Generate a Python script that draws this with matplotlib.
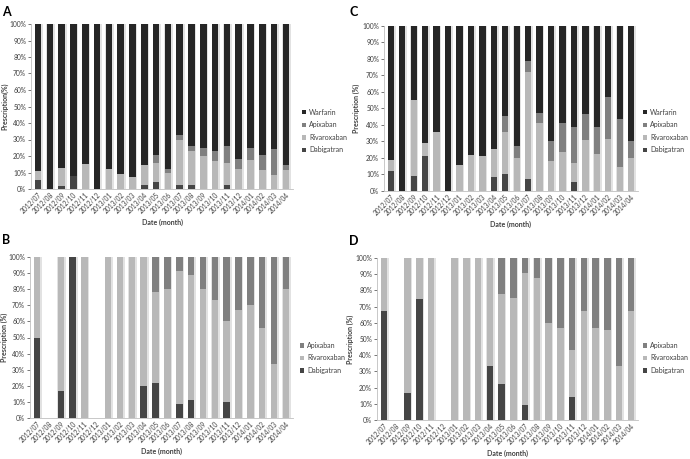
import matplotlib
matplotlib.use("Agg")
import matplotlib.pyplot as plt
from matplotlib.patches import Patch
import numpy as np

plt.rcParams['font.family'] = ['Lato', 'DejaVu Sans']

months = ['2012/07', '2012/08', '2012/09', '2012/10', '2012/11', '2012/12',
          '2013/01', '2013/02', '2013/03', '2013/04', '2013/05', '2013/06',
          '2013/07', '2013/08', '2013/09', '2013/10', '2013/11', '2013/12',
          '2014/01', '2014/02', '2014/03', '2014/04']

# panel A - all patients
a_dabigatran = [5.5, 0, 2, 8, 0, 0, 0, 0, 0, 2.5, 4.5, 0, 2.5, 2.5, 0, 0, 2.5, 0, 0, 0, 0, 0]
a_rivaroxaban = [5.5, 0, 11, 0, 15, 0, 12, 9, 7.5, 12, 11, 10, 27, 20.5, 20, 17, 13, 12, 17.5, 11.5, 8.5, 11.5]
a_apixaban = [0, 0, 0, 0, 0, 0, 0, 0, 0, 0, 5, 2, 3.5, 3, 5, 6, 10.5, 6, 7.5, 9, 15.5, 3]

# panel C
c_dabigatran = [12, 0, 9, 21.5, 0, 0, 0, 0, 0, 8.5, 10, 0, 7, 0, 0, 0, 5.5, 0, 0, 0, 0, 0]
c_rivaroxaban = [7, 0, 46, 7.5, 36, 0, 15.5, 22, 21.5, 17, 25.5, 20, 65, 41.5, 18, 23.5, 11.5, 31, 22.5, 31.5, 14.5, 20]
c_apixaban = [0, 0, 0, 0, 0, 0, 0, 0, 0, 0, 10, 7, 6.5, 6, 12, 18, 22, 15.5, 16.5, 25.5, 29, 10.5]

# panel B - NOAC only
b_dabigatran = [50, 0, 17, 100, 0, 0, 0, 0, 0, 20, 22, 0, 9, 11, 0, 0, 10, 0, 0, 0, 0, 0]
b_rivaroxaban = [50, 0, 83, 0, 100, 0, 100, 100, 100, 80, 56, 80, 82.5, 78, 80, 73, 50, 67, 70, 56, 33.5, 80]
b_apixaban = [0, 0, 0, 0, 0, 0, 0, 0, 0, 0, 22, 20, 8.5, 11, 20, 27, 40, 33, 30, 44, 66.5, 20]

# panel D
d_dabigatran = [67, 0, 16.5, 75, 0, 0, 0, 0, 0, 33.5, 22, 0, 9, 0, 0, 0, 14.5, 0, 0, 0, 0, 0]
d_rivaroxaban = [33, 0, 83.5, 25, 100, 0, 100, 100, 100, 66.5, 56, 75.5, 82, 87.5, 60, 57, 28.5, 67, 57, 55.5, 33.5, 67]
d_apixaban = [0, 0, 0, 0, 0, 0, 0, 0, 0, 0, 22, 24.5, 9, 12.5, 40, 43, 57, 33, 43, 44.5, 66.5, 33]

COL = {'Warfarin': '#262626', 'Apixaban': '#808080',
       'Rivaroxaban': '#b8b8b8', 'Dabigatran': '#454545'}

W, H = 690, 459
fig = plt.figure(figsize=(W / 100, H / 100), dpi=100)


def px_axes(l, r, t, b):
    return fig.add_axes([l / W, 1 - b / H, (r - l) / W, (b - t) / H])


def draw_panel(ax, series, ylabel, ylab_x):
    x = np.arange(len(months))
    total = np.sum([np.array(v, dtype=float) for _, v in series], axis=0)
    # soft shadow behind each full stack (excel style)
    ax.bar(x + 0.06, total, 0.7, color='#e2e2e2', linewidth=0, zorder=1)
    bottom = np.zeros(len(months))
    for name, vals in series:
        vals = np.array(vals, dtype=float)
        ax.bar(x, vals, 0.55, bottom=bottom, color=COL[name], linewidth=0, zorder=2)
        bottom += vals
    ax.set_xlim(-0.6, len(months) - 0.4)
    ax.set_ylim(0, 100)
    ax.set_yticks(np.arange(0, 101, 10))
    ax.set_yticklabels([f'{v}%' for v in range(0, 101, 10)])
    ax.set_xticks(x)
    ax.set_xticklabels(months, rotation=45, ha='right', rotation_mode='anchor')
    ax.tick_params(labelsize=4.8, colors='#404040', length=2, width=0.5, pad=1.5)
    ax.tick_params(axis='x', length=0)
    for s in ['top', 'right']:
        ax.spines[s].set_visible(False)
    for s in ['left', 'bottom']:
        ax.spines[s].set_color('#bfbfbf')
        ax.spines[s].set_linewidth(0.6)
    ax.set_ylabel(ylabel, fontsize=5, fontweight='bold', color='#404040')
    ax.yaxis.set_label_coords(ylab_x, 0.5)
    ax.set_xlabel('Date (month)', fontsize=5, fontweight='bold', color='#404040', labelpad=3)


def add_legend(names, x, y):
    handles = [Patch(facecolor=COL[n], label=n) for n in names]
    fig.legend(handles=handles, loc='center left', bbox_to_anchor=(x / W, 1 - y / H),
               frameon=False, fontsize=5, handlelength=0.6, handleheight=0.6,
               handletextpad=0.4, labelspacing=0.8, labelcolor='#404040',
               borderpad=0, borderaxespad=0)


axA = px_axes(31, 293, 24, 189)
war_a = 100 - np.array(a_dabigatran) - np.array(a_rivaroxaban) - np.array(a_apixaban)
draw_panel(axA, [('Dabigatran', a_dabigatran), ('Rivaroxaban', a_rivaroxaban),
                 ('Apixaban', a_apixaban), ('Warfarin', war_a)], 'Prescription(%)', -0.085)
add_legend(['Warfarin', 'Apixaban', 'Rivaroxaban', 'Dabigatran'], 302, 131)

axC = px_axes(384, 638, 26, 191)
war_c = 100 - np.array(c_dabigatran) - np.array(c_rivaroxaban) - np.array(c_apixaban)
draw_panel(axC, [('Dabigatran', c_dabigatran), ('Rivaroxaban', c_rivaroxaban),
                 ('Apixaban', c_apixaban), ('Warfarin', war_c)], 'Prescription (%)', -0.095)
add_legend(['Warfarin', 'Apixaban', 'Rivaroxaban', 'Dabigatran'], 643, 131)

axB = px_axes(30, 293, 257, 418)
draw_panel(axB, [('Dabigatran', b_dabigatran), ('Rivaroxaban', b_rivaroxaban),
                 ('Apixaban', b_apixaban)], 'Prescription (%)', -0.085)
add_legend(['Apixaban', 'Rivaroxaban', 'Dabigatran'], 300, 358)

axD = px_axes(377, 638, 258, 420)
draw_panel(axD, [('Dabigatran', d_dabigatran), ('Rivaroxaban', d_rivaroxaban),
                 ('Apixaban', d_apixaban)], 'Prescription (%)', -0.09)
add_legend(['Apixaban', 'Rivaroxaban', 'Dabigatran'], 643, 358)

for lab, (x, y) in {'A': (2, 12), 'C': (349, 12), 'B': (2, 240), 'D': (349, 241)}.items():
    fig.text(x / W, 1 - y / H, lab, fontsize=9, fontweight='bold', va='center', ha='left')

fig.savefig('out.png', dpi=100)
